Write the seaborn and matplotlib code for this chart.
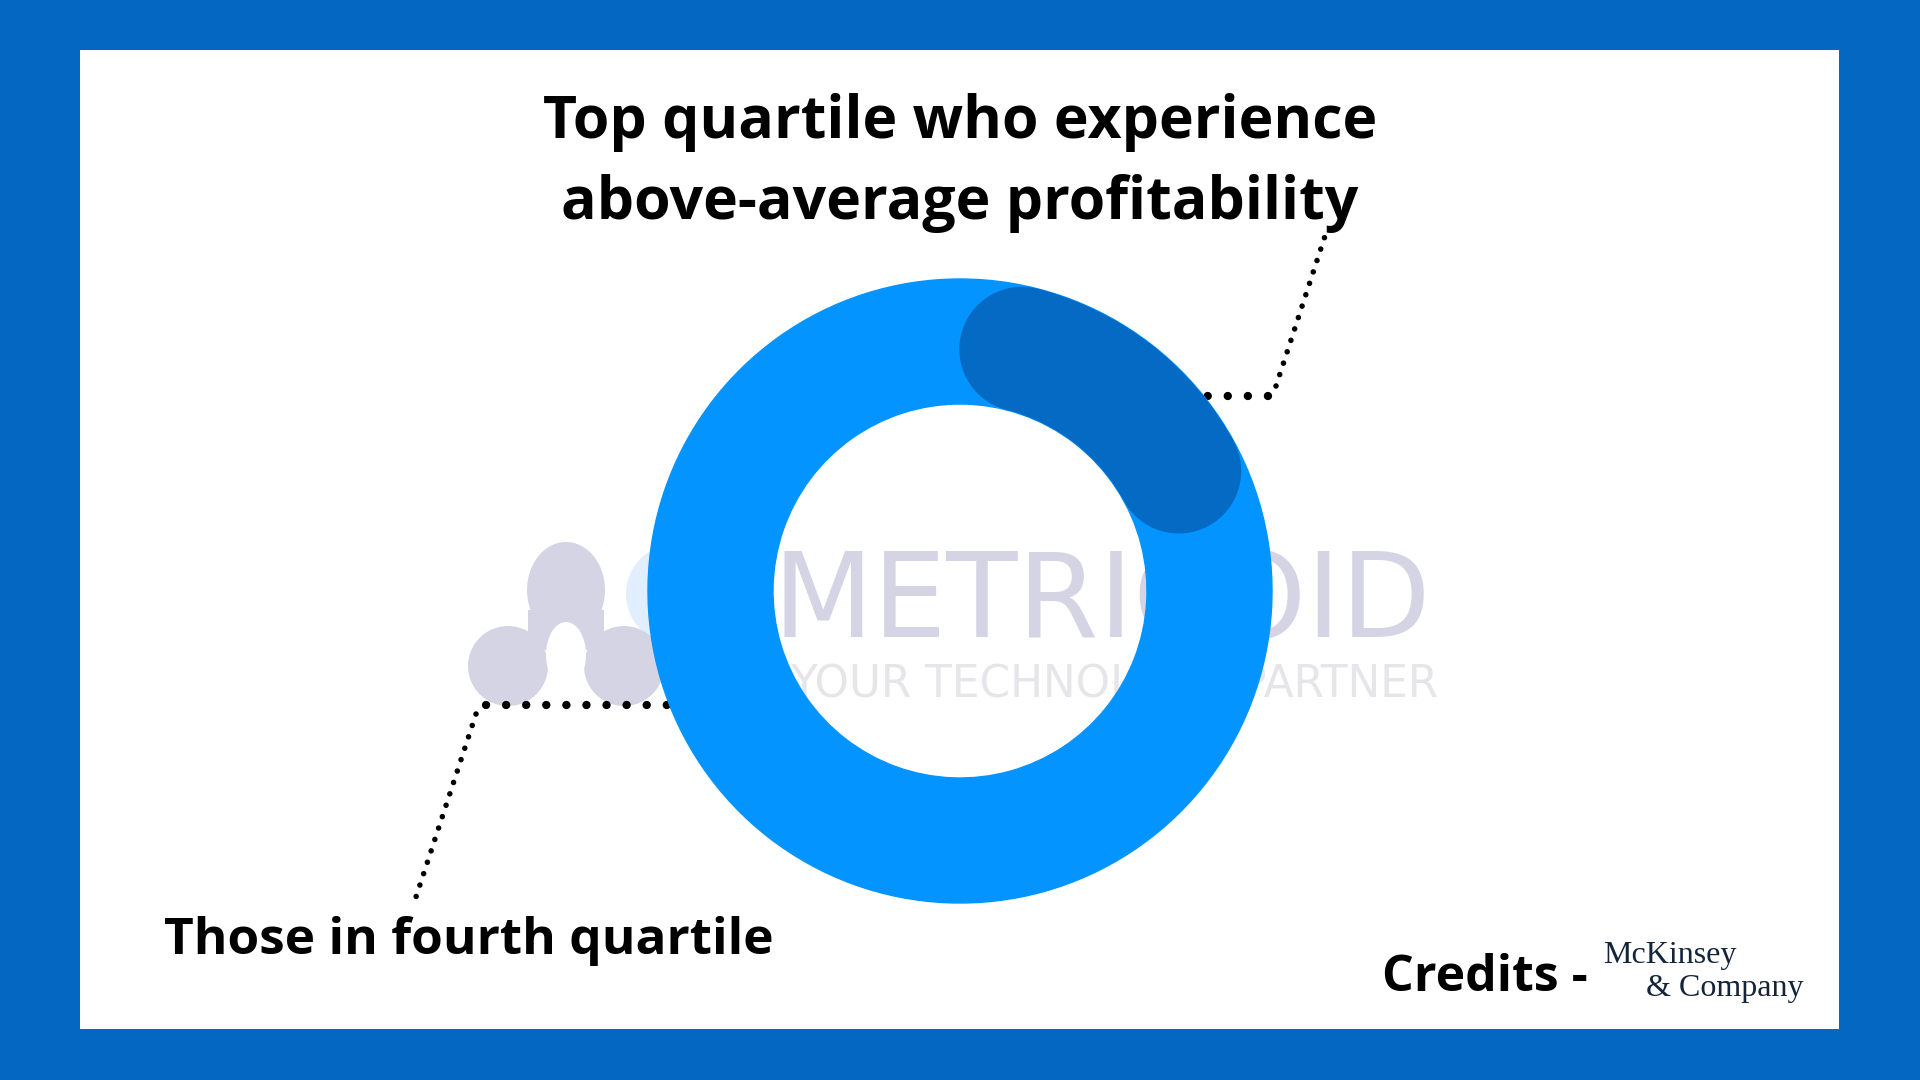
import numpy as np
import matplotlib.pyplot as plt
from matplotlib.patches import Wedge, Circle, Ellipse, Rectangle
import seaborn as sns

# data
segment_labels = ['Top quartile who experience\nabove-average profitability', 'Those in fourth quartile']
segment_shares = [21, 79]
credit_text = 'Credits -'
credit_brand = ['McKinsey', '& Company']
watermark_name = 'METRICOID'
watermark_tagline = 'YOUR TECHNOLOGY PARTNER'

# colours
frame_blue = '#0468C2'
ring_blue = '#0494FF'
arc_blue = '#056AC4'
mark_grey = '#D5D4E5'
tag_grey = '#E6E6EA'
brand_navy = '#14253A'

sns.set_theme(style='white')
plt.rcParams['font.family'] = ['Open Sans', 'DejaVu Sans']

W, H = 1920, 1080
fig = plt.figure(figsize=(19.2, 10.8), dpi=100)
fig.patch.set_facecolor(frame_blue)
ax = fig.add_axes([0, 0, 1, 1])


def Y(y):
    # offset from the top of the picture -> axes y
    return H - y


# white card
ax.add_patch(Rectangle((80, Y(1029)), 1759, 979, color='white', lw=0, zorder=0))

# watermark (logo + name)
ax.add_patch(Circle((676, Y(594)), 50, color='#E0EEFD', lw=0, zorder=0.4))
ax.add_patch(Ellipse((566, Y(590)), 78, 96, color=mark_grey, lw=0, zorder=0.5))
ax.add_patch(Rectangle((528, Y(650)), 76, 40, color=mark_grey, lw=0, zorder=0.5))
ax.add_patch(Ellipse((508, Y(666)), 80, 80, color=mark_grey, lw=0, zorder=0.5))
ax.add_patch(Ellipse((624, Y(666)), 80, 80, color=mark_grey, lw=0, zorder=0.5))
ax.add_patch(Ellipse((566, Y(655)), 40, 66, color='white', lw=0, zorder=0.55))
ax.text(772, Y(637), watermark_name, fontsize=84, family='DejaVu Sans', color=mark_grey,
        va='baseline', ha='left', zorder=0.6)
ax.text(790, Y(698), watermark_tagline, fontsize=31.5, family='DejaVu Sans', color=tag_grey,
        va='baseline', ha='left', zorder=0.6)

# donut
cx, cy = 960, Y(591)
r_out, ring_w = 312, 125
wedges, _ = ax.pie(segment_shares, colors=[ring_blue, ring_blue], startangle=90,
                   counterclock=False, radius=r_out, center=(cx, cy),
                   wedgeprops=dict(width=ring_w, linewidth=1, edgecolor=ring_blue))
for w in wedges:
    w.set_zorder(2)

# highlighted share drawn as a rounded arc inside its wedge
t1, t2 = wedges[0].theta1, wedges[0].theta2
r_mid = r_out - ring_w / 2
cap = np.degrees(ring_w / 2 / r_mid)
ax.add_patch(Wedge((cx, cy), r_out, t1 + cap, t2 - cap, width=ring_w,
                   color=arc_blue, lw=0, zorder=3))
for t in (t1 + cap, t2 - cap):
    ax.add_patch(Circle((cx + r_mid * np.cos(np.radians(t)), cy + r_mid * np.sin(np.radians(t))),
                        ring_w / 2, color=arc_blue, lw=0, zorder=3))

# dotted leader lines
big_dots = dict(color='black', lw=6, linestyle=(0, (0.01, 2.4)), dash_capstyle='round', zorder=1.5)
small_dots = dict(color='black', lw=4, linestyle=(0, (0.01, 2.15)), dash_capstyle='round', zorder=1.5)
ax.plot([1268, 1190], [Y(396), Y(396)], **big_dots)
ax.plot([1276, 1325], [Y(386), Y(236)], **small_dots)
ax.plot([486, 670], [Y(705), Y(705)], **big_dots)
ax.plot([476, 415], [Y(714), Y(900)], **small_dots)

# labels
ax.text(960, Y(163), segment_labels[0], ha='center', va='center', fontsize=42.5,
        fontweight='bold', color='black', linespacing=1.5, zorder=4)
ax.text(164, Y(954), segment_labels[1], ha='left', va='baseline', fontsize=37,
        fontweight='bold', color='black', zorder=4)
ax.text(1382, Y(991), credit_text, ha='left', va='baseline', fontsize=36,
        fontweight='bold', color='black', zorder=4)
ax.text(1603, Y(963), credit_brand[0], ha='left', va='baseline', fontsize=23,
        family='Liberation Serif', color=brand_navy, zorder=4)
ax.text(1646, Y(996), credit_brand[1], ha='left', va='baseline', fontsize=23,
        family='Liberation Serif', color=brand_navy, zorder=4)

ax.set_xlim(0, W)
ax.set_ylim(0, H)
ax.set_aspect('equal')
ax.axis('off')

plt.savefig('out.png', dpi=100, facecolor=fig.get_facecolor())
